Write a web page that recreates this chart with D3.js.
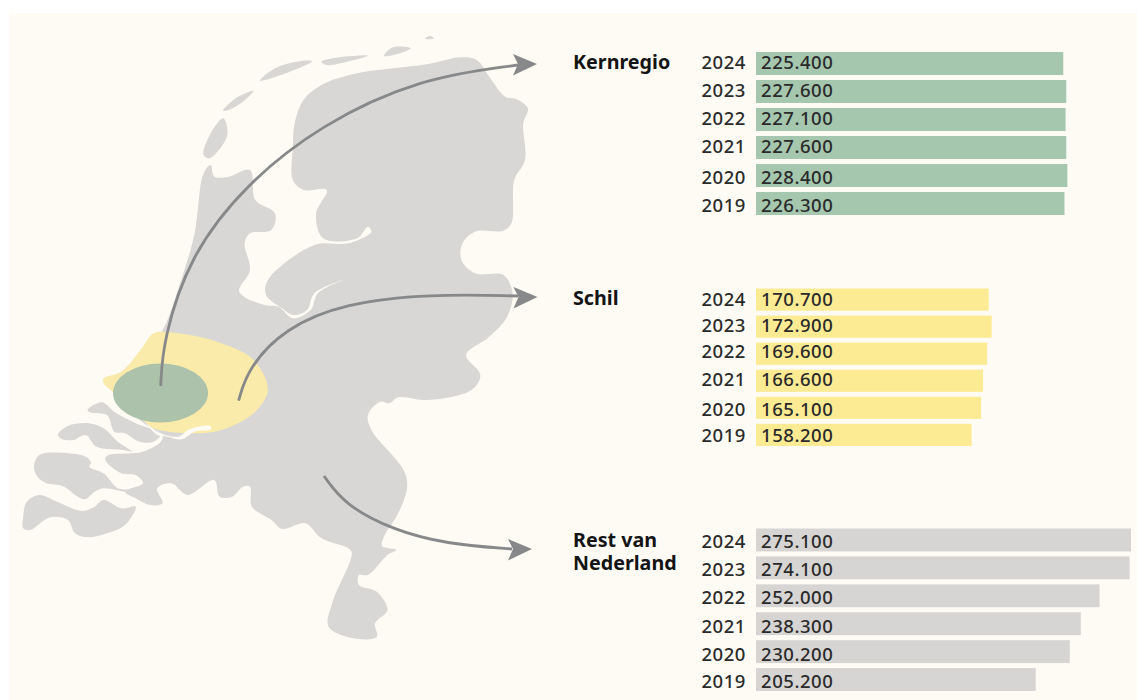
<!DOCTYPE html>
<html>
<head>
<meta charset="utf-8">
<script src="https://cdn.jsdelivr.net/npm/d3@7"></script>
<style>
    html, body { margin: 0; padding: 0; background: #fff; }
    svg { display: block; }
    .tick text, .waarde { font-family: "Noto Sans", sans-serif; font-size: 18.5px; font-weight: 500; letter-spacing: 0.55px; fill: #2a2a2a; }
    .titel { font-family: "Noto Sans", sans-serif; font-size: 19.7px; font-weight: 700; fill: #141414; }
</style>
</head>
<body>
<svg width="1137" height="700"></svg>
<script>
// ---- Data
const jaren = ['2024', '2023', '2022', '2021', '2020', '2019'];
const kernregio = [225400, 227600, 227100, 227600, 228400, 226300];
const schil = [170700, 172900, 169600, 166600, 165100, 158200];
const rest = [275100, 274100, 252000, 238300, 230200, 205200];

// ---- Kaart: omtrek overgetrokken, in twee uitsneden (noord en zuid)
const kustNoordOost = [[820, 440], [825, 370], [850, 300], [900, 255], [990, 222], [1100, 205], [1200, 192], [1290, 172], [1335, 180], [1370, 230], [1415, 290], [1445, 297], [1478, 325], [1465, 370], [1470, 480], [1440, 540], [1432, 670], [1410, 692], [1330, 695], [1295, 730], [1292, 780], [1330, 820], [1410, 825], [1435, 880], [1420, 950], [1370, 1010]];
const kustZuid = [[1305, 45], [1345, 105], [1320, 150], [1200, 180], [1115, 172], [1090, 190], [1065, 185], [1030, 225], [1040, 270], [1130, 390], [1140, 440], [1115, 520], [1075, 590], [1070, 618], [1110, 630], [1085, 645], [1030, 705], [1005, 705], [1005, 735], [1055, 755], [1085, 810], [1050, 850], [1055, 890], [990, 895], [920, 860], [930, 790], [985, 640], [975, 625], [900, 595], [855, 550], [790, 567], [760, 540], [705, 500], [700, 440], [680, 440], [650, 470], [615, 470], [600, 420], [525, 465], [480, 430], [440, 445], [455, 490], [420, 495], [380, 475], [350, 455], [400, 430], [380, 405], [340, 400], [295, 360], [300, 347], [370, 340], [400, 335], [450, 305], [455, 285], [410, 255], [350, 200], [320, 160], [290, 120], [340, 95], [400, 30]];
const kustNoordWest = [[450, 1000], [510, 830], [545, 700], [570, 520], [590, 495], [600, 530], [640, 530], [700, 510], [715, 600], [770, 640], [760, 690], [700, 700], [685, 730], [700, 810], [670, 875], [740, 915], [780, 920], [820, 955], [870, 930], [890, 880], [960, 840], [880, 880], [860, 930], [820, 945], [790, 925], [745, 885], [750, 840], [880, 735], [975, 730], [1040, 695], [1030, 680], [1000, 715], [905, 715], [885, 640], [915, 570], [850, 570], [820, 540]];

const waddenEilanden = [
    [[625, 355], [637, 400], [620, 440], [585, 475], [570, 465], [585, 410]],
    [[625, 332], [660, 295], [710, 272], [680, 305], [640, 330]],
    [[728, 242], [770, 205], [830, 185], [875, 183], [800, 220]],
    [[900, 185], [950, 172], [1030, 167], [960, 188], [915, 195]],
    [[1075, 168], [1100, 142], [1150, 145], [1120, 160]],
    [[1190, 115], [1205, 108], [1215, 115], [1200, 118]]
];
const zeeland = [
    [[245, 210], [285, 187], [320, 215], [380, 250], [450, 282], [430, 305], [390, 305], [350, 280], [320, 275], [300, 225], [255, 218]],
    [[162, 285], [190, 258], [250, 250], [290, 265], [330, 305], [370, 335], [345, 330], [270, 320], [240, 285], [205, 300], [175, 298]],
    [[95, 380], [110, 345], [170, 338], [240, 350], [255, 368], [250, 380], [290, 400], [330, 445], [370, 450], [355, 455], [290, 445], [265, 455], [235, 478], [175, 438], [130, 430], [105, 410]],
    [[65, 530], [75, 485], [110, 465], [160, 485], [230, 513], [265, 500], [290, 480], [340, 505], [380, 500], [350, 555], [300, 580], [245, 592], [210, 580], [190, 540], [140, 532], [85, 570], [65, 565]]
];
const schilVorm = [[290, 115], [340, 95], [400, 20], [430, -20], [500, -20], [620, 10], [710, 60], [750, 150], [710, 220], [620, 270], [530, 280], [430, 265], [400, 240], [350, 200], [320, 160], [290, 130]];
const waterweg = [[410, 250], [440, 275], [500, 290], [530, 268], [590, 258], [590, 268], [545, 275], [508, 298], [470, 290], [440, 285]];

const svg = d3.select('svg');

// uitsneden zijn 2.8x breed en 3x hoog getekend
const noord = ([x, y]) => [x / 2.8, y / 3];
const zuid = ([x, y]) => [x / 2.8, y / 3 + 340];

const vorm = d3.line().curve(d3.curveCatmullRomClosed.alpha(0.5));
const boog = d3.line().curve(d3.curveBasis);

svg.append('rect').attr('width', 1137).attr('height', 700).attr('fill', '#fff');
svg.append('rect').attr('x', 9).attr('y', 13).attr('width', 1128).attr('height', 687).attr('fill', '#fdfbf4');

// ---- Land
const kaart = svg.append('g');
const land = [...kustNoordOost.map(noord), ...kustZuid.map(zuid), ...kustNoordWest.map(noord)];
kaart.append('path').attr('d', vorm(land)).attr('fill', '#d8d7d5');
kaart.selectAll('.wadden').data(waddenEilanden).enter().append('path')
    .attr('class', 'wadden')
    .attr('d', d => vorm(d.map(noord)))
    .attr('fill', '#d8d7d5');
kaart.selectAll('.zeeland').data(zeeland).enter().append('path')
    .attr('class', 'zeeland')
    .attr('d', d => vorm(d.map(zuid)))
    .attr('fill', '#d8d7d5');

// ---- Regio's
kaart.append('path').attr('d', vorm(schilVorm.map(zuid))).attr('fill', '#faebab');
kaart.append('path').attr('d', vorm(waterweg.map(zuid))).attr('fill', '#fdfbf4');
kaart.append('ellipse')
    .attr('cx', 160.5).attr('cy', 393).attr('rx', 47.5).attr('ry', 29.5)
    .attr('fill', '#adc2ab');

// ---- Pijlen
const pijlen = [
    { lijn: [[160.7, 386], [163, 340], [190, 255], [245, 185], [320, 125], [420, 78], [518, 65]], punt: [537, 64] },
    { lijn: [[238.6, 400.7], [248, 368], [285, 328], [345, 303], [430, 294], [518, 296]], punt: [537.5, 297] },
    { lijn: [[324, 476], [345, 505], [393, 530], [446, 544], [512, 549]], punt: [532, 549] }
];

pijlen.forEach(p => {
    svg.append('path')
        .attr('d', boog(p.lijn))
        .attr('fill', 'none')
        .attr('stroke', '#87888a')
        .attr('stroke-width', 2.8)
        .attr('stroke-linecap', 'butt');
    const [x, y] = p.punt;
    svg.append('path')
        .attr('d', `M${x},${y} L${x - 24},${y + 11.5} L${x - 19},${y} L${x - 24},${y - 10} Z`)
        .attr('fill', '#87888a');
});

// ---- Staven
const fmt = d3.formatLocale({ decimal: ',', thousands: '.', grouping: [3], currency: ['€', ''] }).format(',d');
const mapX = d3.scaleLinear().domain([0, 275100]).range([0, 375]);
const x0 = 756;

// tekstRegels: in het origineel staan de labels per rij net iets anders dan de staaf
function panel(titel, waarden, kleur, bereik, titelY, tekstRegels) {
    const mapY = d3.scaleBand().domain(jaren).range(bereik).paddingInner(0.18);
    const data = jaren.map((jaar, i) => ({ jaar, waarde: waarden[i], dy: tekstRegels[i] }));
    const g = svg.append('g');

    g.selectAll('.staaf').data(data).enter().append('rect')
        .attr('class', 'staaf')
        .attr('x', x0)
        .attr('y', d => mapY(d.jaar))
        .attr('width', d => mapX(d.waarde))
        .attr('height', mapY.bandwidth())
        .attr('fill', kleur);

    g.selectAll('.waarde').data(data).enter().append('text')
        .attr('class', 'waarde')
        .attr('x', x0 + 5)
        .attr('y', d => mapY(d.jaar) + mapY.bandwidth() / 2 + d.dy)
        .attr('dy', '0.32em')
        .text(d => fmt(d.waarde));

    const as = g.append('g')
        .attr('transform', `translate(${x0}, 0)`)
        .call(d3.axisLeft(mapY).tickSize(0).tickPadding(10));
    as.select('.domain').remove();
    as.selectAll('text')
        .attr('fill', null)
        .attr('y', (d, i) => tekstRegels[i]);

    titel.forEach((regel, i) => {
        g.append('text')
            .attr('class', 'titel')
            .attr('x', 573)
            .attr('y', titelY + i * 22.5)
            .text(regel);
    });
}

panel(['Kernregio'], kernregio, '#a5c7ae', [52, 215], 68.5, [0, 0, 0, 0, 3, 3]);
panel(['Schil'], schil, '#fdeb94', [288.5, 446], 305, [0, -1, -2, -1, 2, 1]);
panel(['Rest van', 'Nederland'], rest, '#d6d5d3', [528.5, 691], 547, [2, 2, 2, 3, 3, 3]);
</script>
</body>
</html>
